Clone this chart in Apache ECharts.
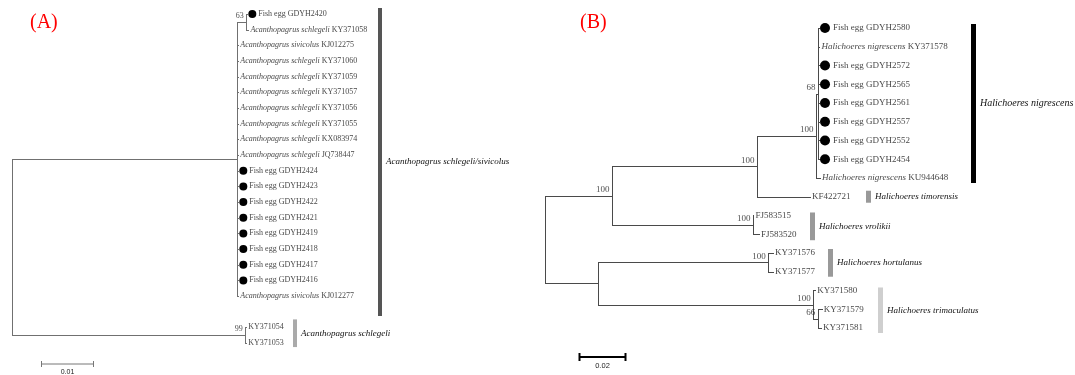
<!DOCTYPE html>
<html><head><meta charset="utf-8">
<script src="https://cdn.jsdelivr.net/npm/echarts@6/dist/echarts.min.js"></script>
<style>html,body{margin:0;padding:0;background:#fff}#c{width:1075px;height:375px}</style>
</head><body><div id="c"></div>
<script>
// ---------------- DATA : panel A ----------------
const leafNamesA = [
  'Fish egg GDYH2420',
  'Acanthopagrus schlegeli|KY371058',
  'Acanthopagrus sivicolus|KJ012275',
  'Acanthopagrus schlegeli|KY371060',
  'Acanthopagrus schlegeli|KY371059',
  'Acanthopagrus schlegeli|KY371057',
  'Acanthopagrus schlegeli|KY371056',
  'Acanthopagrus schlegeli|KY371055',
  'Acanthopagrus schlegeli|KX083974',
  'Acanthopagrus schlegeli|JQ738447',
  'Fish egg GDYH2424',
  'Fish egg GDYH2423',
  'Fish egg GDYH2422',
  'Fish egg GDYH2421',
  'Fish egg GDYH2419',
  'Fish egg GDYH2418',
  'Fish egg GDYH2417',
  'Fish egg GDYH2416',
  'Acanthopagrus sivicolus|KJ012277',
  null,
  'KY371054',
  'KY371053'
];
const leafParentA = ['n63','n63','up','up','up','up','up','up','up','up','up','up','up','up','up','up','up','up','up',null,'low','low'];
const leafBranchA = [0.0002,0.0004,0.0002,0.0002,0.0002,0.0002,0.0002,0.0002,0.0002,0.0002,0.0002,0.0002,0.0002,0.0002,0.0002,0.0002,0.0002,0.0002,0.0002,null,0.0002,0.0002];
const nodeNamesA   = ['root','up','n63','low'];
const nodeParentA  = [null,'root','up','root'];
const nodeBranchA  = [0,0.0425,0.0017,0.044];
const nodeSupportA = ['','','63','99'];
const cladeNamesA  = ['Acanthopagrus schlegeli/sivicolus','Acanthopagrus schlegeli'];
const cladeFirstA  = [0,20];
const cladeLastA   = [18,21];
const scaleLenA = 0.01;
const scaleLabelA = '0.01';

// ---------------- DATA : panel B ----------------
const leafNamesB = [
  'Fish egg GDYH2580',
  'Halichoeres nigrescens|KY371578',
  'Fish egg GDYH2572',
  'Fish egg GDYH2565',
  'Fish egg GDYH2561',
  'Fish egg GDYH2557',
  'Fish egg GDYH2552',
  'Fish egg GDYH2454',
  'Halichoeres nigrescens|KU944648',
  'KF422721',
  'FJ583515',
  'FJ583520',
  'KY371576',
  'KY371577',
  'KY371580',
  'KY371579',
  'KY371581'
];
const leafParentB = ['n68','n68','n68','n68','n68','n68','n68','n68','nig','n757','fj','fj','hort','hort','trim','n66','n66'];
const leafBranchB = [0.0004,0.0006,0.0004,0.0004,0.0004,0.0004,0.0004,0.0004,0.0017,0.0226,0.0002,0.0026,0.002,0.002,0.0009,0.0017,0.0013];
const nodeNamesB   = ['root','n612','n757','nig','n68','fj','n598','hort','trim','n66'];
const nodeParentB  = [null,'root','n612','n757','nig','n612','root','n598','n598','trim'];
const nodeBranchB  = [0,0.0285,0.0617,0.0251,0.0009,0.060,0.0226,0.0724,0.0915,0.002];
const nodeSupportB = ['','100','100','100','68','100','','100','100','66'];
const cladeNamesB  = ['Halichoeres nigrescens','Halichoeres timorensis','Halichoeres vrolikii','Halichoeres hortulanus','Halichoeres trimaculatus'];
const cladeFirstB  = [0,9,10,12,14];
const cladeLastB   = [8,9,11,13,16];
const scaleLenB = 0.02;
const scaleLabelB = '0.02';

// ---------------- STYLE ----------------
const SERIF = "'Liberation Serif','DejaVu Serif',serif";
const SANS = "'Liberation Sans','DejaVu Sans',sans-serif";
const styleA = {
  line:'#707070', leafFont:8, supFont:8, dot:8, dotOff:5, eggDist:10.5, leafDist:1.5,
  clades:[{x:378,w:4,color:'#555',padT:6,padB:20,font:9},{x:293,w:4,color:'#aaa',padT:8,padB:4,font:9}],
  scale:{x:41,y:364,color:'#777',w:1,tick:3,font:7}
};
const styleB = {
  line:'#4a4a4a', leafFont:9, supFont:9, dot:10, dotOff:6, eggDist:13.5, leafDist:1.5,
  clades:[{x:971,w:5,color:'#000',padT:4,padB:5,font:10},{x:866,w:5,color:'#999',padT:6,padB:6,font:9},
          {x:810,w:5,color:'#999',padT:3,padB:6,font:9},{x:828,w:5,color:'#999',padT:4,padB:5,font:9},
          {x:878,w:5,color:'#cfcfcf',padT:3,padB:5,font:9}],
  scale:{x:579,y:357,color:'#000',w:2,tick:4,font:7.5}
};

// ---------------- LAYOUT (tree rules) ----------------
function layout(leaves, lPar, lBr, nodes, nPar, nBr) {
  const nodeX = {};
  nodes.forEach((n,i)=>{ nodeX[n] = nPar[i]==null ? 0 : nodeX[nPar[i]] + nBr[i]; });
  const leafX = [], leafY = [];
  let row = 0;
  leaves.forEach((l,i)=>{ if(l!=null){ leafX[i]=nodeX[lPar[i]]+lBr[i]; leafY[i]=row; } row++; });
  const ext = {};
  const add = (n,v)=>{ if(!ext[n]) ext[n]=[v,v]; else { ext[n][0]=Math.min(ext[n][0],v); ext[n][1]=Math.max(ext[n][1],v);} };
  leaves.forEach((l,i)=>{ if(l!=null) add(lPar[i], leafY[i]); });
  const nodeY = {};
  for(let i=nodes.length-1;i>=0;i--){ const n=nodes[i]; nodeY[n]=(ext[n][0]+ext[n][1])/2; if(nPar[i]!=null) add(nPar[i], nodeY[n]); }
  const segs = [];
  leaves.forEach((l,i)=>{ if(l!=null) segs.push([nodeX[lPar[i]], leafY[i], leafX[i], leafY[i]]); });
  nodes.forEach((n,i)=>{
    if(nPar[i]!=null) segs.push([nodeX[nPar[i]], nodeY[n], nodeX[n], nodeY[n]]);
    segs.push([nodeX[n], ext[n][0], nodeX[n], ext[n][1]]);
  });
  return {nodeX,nodeY,leafX,leafY,segs};
}
const LA = layout(leafNamesA, leafParentA, leafBranchA, nodeNamesA, nodeParentA, nodeBranchA);
const LB = layout(leafNamesB, leafParentB, leafBranchB, nodeNamesB, nodeParentB, nodeBranchB);

function fmtLeaf(name){ const p=name.split('|'); return p.length===2 ? '{i|'+p[0]+'} '+p[1] : name; }
const isEgg = n => n!=null && n.indexOf('Fish egg')===0;

function panelSeries(idx, L, leaves, nodes, support, cNames, cFirst, cLast, st, sLen, sLab){
  const out = [];
  const crisp = v => Math.round(v)+0.5;
  out.push({type:'custom', xAxisIndex:idx, yAxisIndex:idx, silent:true, data:L.segs,
    renderItem:(p,api)=>{ const a=api.coord([api.value(0),api.value(1)]), b=api.coord([api.value(2),api.value(3)]);
      return {type:'line', shape:{x1:crisp(a[0]),y1:crisp(a[1]),x2:crisp(b[0]),y2:crisp(b[1])}, style:{stroke:st.line,lineWidth:1,lineCap:'square'}}; }});
  // egg dots
  const eggs=[]; leaves.forEach((l,i)=>{ if(isEgg(l)) eggs.push([L.leafX[i],L.leafY[i]]); });
  out.push({type:'scatter', xAxisIndex:idx, yAxisIndex:idx, silent:true, data:eggs, symbolSize:st.dot, symbolOffset:[st.dotOff,0], itemStyle:{color:'#000', opacity:1}, z:3});
  // leaf labels
  const lab=[]; leaves.forEach((l,i)=>{ if(l!=null) lab.push({value:[L.leafX[i],L.leafY[i]], name:l, label:{distance: isEgg(l)?st.eggDist:st.leafDist}}); });
  out.push({type:'scatter', xAxisIndex:idx, yAxisIndex:idx, silent:true, data:lab, symbolSize:1, itemStyle:{color:'rgba(0,0,0,0)'}, z:4,
    label:{show:true, position:'right', color:'#111', fontFamily:SERIF, fontSize:st.leafFont,
      formatter:p=>fmtLeaf(p.name), rich:{i:{fontStyle:'italic', fontFamily:SERIF, fontSize:st.leafFont, color:'#111'}}}});
  // support values
  const sup=[]; nodes.forEach((n,i)=>{ if(support[i]) sup.push({value:[L.nodeX[n],L.nodeY[n]], name:support[i]}); });
  out.push({type:'scatter', xAxisIndex:idx, yAxisIndex:idx, silent:true, data:sup, symbolSize:1, itemStyle:{color:'rgba(0,0,0,0)'}, z:4,
    label:{show:true, position:'left', distance:2, offset:[0,-6], color:'#222', fontFamily:SERIF, fontSize:st.supFont, formatter:p=>p.name}});
  // clade bars
  out.push({type:'custom', xAxisIndex:idx, yAxisIndex:idx, silent:true, data:cNames.map((n,i)=>[0,L.leafY[cFirst[i]]]), z:2,
    renderItem:(p,api)=>{ const i=p.dataIndex, c=st.clades[i];
      const y1=api.coord([0,L.leafY[cFirst[i]]])[1]-c.padT, y2=api.coord([0,L.leafY[cLast[i]]])[1]+c.padB;
      return {type:'group', children:[
        {type:'rect', shape:{x:c.x,y:y1,width:c.w,height:y2-y1}, style:{fill:c.color}},
        {type:'text', x:c.x+c.w+4, y:(y1+y2)/2, style:{text:cNames[i], fill:'#111', font:'italic '+c.font+'px '+SERIF, verticalAlign:'middle', align:'left'}}
      ]}; }});
  // scale bar
  out.push({type:'custom', xAxisIndex:idx, yAxisIndex:idx, silent:true, data:[[sLen,0]], z:2,
    renderItem:(p,api)=>{ const s=st.scale, w=api.size([api.value(0),0])[0];
      return {type:'group', children:[
        {type:'line', shape:{x1:s.x,y1:s.y,x2:s.x+w,y2:s.y}, style:{stroke:s.color,lineWidth:s.w}},
        {type:'line', shape:{x1:s.x+0.5,y1:s.y-s.tick,x2:s.x+0.5,y2:s.y+s.tick}, style:{stroke:s.color,lineWidth:s.w}},
        {type:'line', shape:{x1:s.x+w-0.5,y1:s.y-s.tick,x2:s.x+w-0.5,y2:s.y+s.tick}, style:{stroke:s.color,lineWidth:s.w}},
        {type:'text', x:s.x+w/2, y:s.y+5, style:{text:sLab, fill:'#222', font:s.font+'px '+SANS, align:'center', verticalAlign:'top'}}
      ]}; }});
  return out;
}

const chart = echarts.init(document.getElementById('c'), null, {renderer:'canvas'});
chart.setOption({
  animation:false,
  backgroundColor:'#fff',
  title:[
    {text:'(A)', left:30, top:13, padding:0, textStyle:{color:'#f00', fontFamily:SERIF, fontSize:20, fontWeight:'normal'}},
    {text:'(B)', left:580, top:13, padding:0, textStyle:{color:'#f00', fontFamily:SERIF, fontSize:20, fontWeight:'normal'}}
  ],
  grid:[
    {left:12, top:6.2, width:371, height:344.7},
    {left:545, top:18.6, width:470, height:318.75}
  ],
  xAxis:[
    {type:'value', gridIndex:0, min:0, max:0.07, show:false},
    {type:'value', gridIndex:1, min:0, max:0.2, show:false}
  ],
  yAxis:[
    {type:'value', gridIndex:0, min:-0.5, max:21.5, inverse:true, show:false},
    {type:'value', gridIndex:1, min:-0.5, max:16.5, inverse:true, show:false}
  ],
  series:[].concat(
    panelSeries(0, LA, leafNamesA, nodeNamesA, nodeSupportA, cladeNamesA, cladeFirstA, cladeLastA, styleA, scaleLenA, scaleLabelA),
    panelSeries(1, LB, leafNamesB, nodeNamesB, nodeSupportB, cladeNamesB, cladeFirstB, cladeLastB, styleB, scaleLenB, scaleLabelB)
  )
});
</script></body></html>
